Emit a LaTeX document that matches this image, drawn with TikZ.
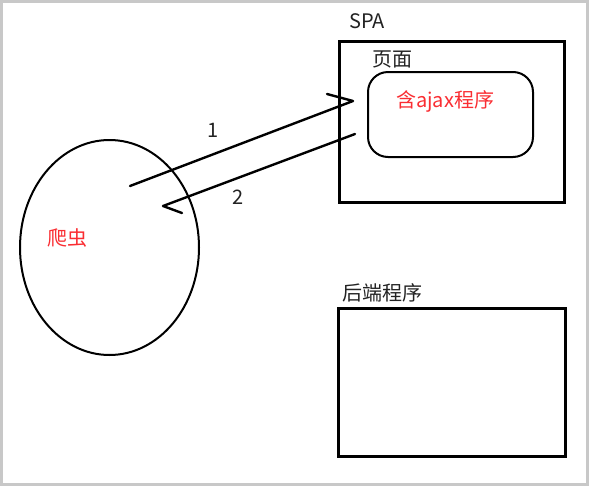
\documentclass[tikz,border=0pt]{standalone}
\usepackage{fontspec}
\setmainfont{Noto Sans CJK SC}
\usetikzlibrary{shapes.geometric}
\definecolor{redtext}{RGB}{250,45,50}
\definecolor{darktext}{RGB}{35,35,35}
\definecolor{frame}{RGB}{200,200,200}
\begin{document}
\begin{tikzpicture}[x=1pt,y=-1pt,
  label/.style={inner sep=0pt,font=\fontsize{20}{22}\selectfont,text=darktext},
  redlabel/.style={inner sep=0pt,font=\fontsize{20}{22}\selectfont,text=redtext},
  thickbox/.style={draw=black,line width=3pt},
  arrowline/.style={draw=black,line width=2.4pt,line cap=round,line join=round}]
\useasboundingbox (0,0) rectangle (589,485);
\draw[frame,line width=3pt,fill=white] (1.5,1) rectangle (587.5,484);
% SPA box
\node[thickbox,minimum width=225pt,minimum height=161pt,anchor=north west,inner sep=0pt] (spa) at (338,40) {};
\node[label,anchor=base west] (spalabel) at (349,28.5) {SPA};
\node[label,anchor=base west] (pagelabel) at (372,66.5) {页面};
\node[draw=black,line width=2pt,rounded corners=20pt,minimum width=165pt,minimum height=85pt,anchor=north west,inner sep=0pt] (page) at (367,71) {};
\node[redlabel,anchor=base west] (ajax) at (396,107) {含ajax程序};
% backend
\node[thickbox,minimum width=227pt,minimum height=148pt,anchor=north west,inner sep=0pt] (backend) at (337,307) {};
\node[label,anchor=base west] (backlabel) at (342,300.5) {后端程序};
% crawler
\node[draw=black,line width=2pt,ellipse,minimum width=179pt,minimum height=215pt,inner sep=0pt] (crawler) at (109.5,247.5) {};
\node[redlabel,anchor=base west] (crawlerlabel) at (47,245.5) {爬虫};
% arrow endpoints
\coordinate (a1s) at (130,186);
\coordinate (a1t) at (353,101);
\coordinate (a1b) at (327,94);
\coordinate (a2s) at (355,134);
\coordinate (a2t) at (163,206);
\coordinate (a2b) at (182,213);
\draw[arrowline] (a1s) -- (a1t) -- (a1b);
\draw[arrowline] (a2s) -- (a2t) -- (a2b);
\node[label,anchor=base] (one) at (213,137) {1};
\node[label,anchor=base] (two) at (238,204) {2};
\end{tikzpicture}
\end{document}
